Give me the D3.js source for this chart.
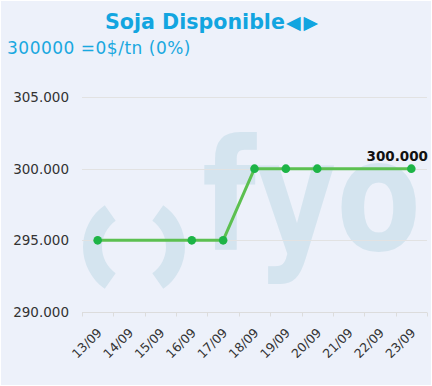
<!DOCTYPE html>
<meta charset="utf-8">
<style>
body { margin: 0; background: #fff; }
svg { display: block; font-family: "DejaVu Sans", Verdana, sans-serif; }
</style>
<svg width="432" height="386"></svg>
<script src="https://cdnjs.cloudflare.com/ajax/libs/d3/7.8.5/d3.min.js"></script>
<script>

// chart data
var dates = ["13/09","14/09","15/09","16/09","17/09","18/09","19/09","20/09","21/09","22/09","23/09"];
var pointDates = ["13/09","16/09","17/09","18/09","19/09","20/09","23/09"];
var pointValues = [295000, 295000, 295000, 300000, 300000, 300000, 300000];
var yTicks = [290000, 295000, 300000, 305000];
var title = "Soja Disponible";
var subtitle = "300000 =0$/tn (0%)";

var svg = d3.select("svg"),
    width = +svg.attr("width"),
    height = +svg.attr("height");

var margin = {top: 97, right: 5, bottom: 74, left: 82};

svg.append("rect")
    .attr("x", 1).attr("y", 1)
    .attr("width", width - 2).attr("height", height - 2)
    .attr("fill", "#edf1fa");

var x = d3.scaleBand()
    .domain(dates)
    .range([margin.left, width - margin.right]);

var y = d3.scaleLinear()
    .domain([290000, 305000])
    .range([height - margin.bottom, margin.top]);

var fmt = function(v) { return d3.format(",")(v).replace(/,/g, "."); };

// watermark logo
var wmColor = "#d4e4ef";
var paren = d3.arc().innerRadius(32).outerRadius(51);
var wm = svg.append("g").attr("transform", "translate(134,247)");
wm.append("path")
    .attr("d", paren({startAngle: -145 * Math.PI / 180, endAngle: -35 * Math.PI / 180}))
    .attr("fill", wmColor);
wm.append("path")
    .attr("d", paren({startAngle: 35 * Math.PI / 180, endAngle: 145 * Math.PI / 180}))
    .attr("fill", wmColor);
svg.append("text")
    .attr("x", 202).attr("y", 250)
    .attr("font-weight", "bold")
    .attr("font-size", 155)
    .attr("textLength", 219)
    .attr("lengthAdjust", "spacingAndGlyphs")
    .attr("fill", wmColor)
    .text("fyo");

// grid lines
svg.append("g")
  .selectAll("line")
  .data(yTicks.slice(1))
  .enter().append("line")
    .attr("x1", margin.left).attr("x2", width - margin.right)
    .attr("y1", function(d) { return Math.round(y(d)) + 0.5; })
    .attr("y2", function(d) { return Math.round(y(d)) + 0.5; })
    .attr("stroke", "#e2e2e2");

// y labels
svg.append("g")
  .selectAll("text")
  .data(yTicks)
  .enter().append("text")
    .attr("x", 69)
    .attr("y", function(d) { return y(d) + 5; })
    .attr("text-anchor", "end")
    .attr("font-size", 13.5)
    .attr("fill", "#333")
    .text(fmt);

// x axis
var xAxis = svg.append("g")
    .attr("transform", "translate(0," + (Math.round(y(290000)) + 0.5) + ")");
xAxis.append("line")
    .attr("x1", margin.left).attr("x2", width - margin.right)
    .attr("stroke", "#dcdcdc");
xAxis.selectAll(".tick")
  .data(dates.concat(["end"]))
  .enter().append("line")
    .attr("x1", function(d, i) { return Math.round(margin.left + i * x.bandwidth()) + 0.5; })
    .attr("x2", function(d, i) { return Math.round(margin.left + i * x.bandwidth()) + 0.5; })
    .attr("y1", 0).attr("y2", 4)
    .attr("stroke", "#dcdcdc");
xAxis.selectAll("text")
  .data(dates)
  .enter().append("text")
    .attr("transform", function(d) {
      return "translate(" + (x(d) + x.bandwidth() / 2 + 5) + ",21) rotate(-45)";
    })
    .attr("text-anchor", "end")
    .attr("font-size", 12.5)
    .attr("fill", "#333")
    .text(function(d) { return d; });

// line and points
var pts = pointDates.map(function(d, i) { return {date: d, value: pointValues[i]}; });
var line = d3.line()
    .x(function(d) { return x(d.date) + x.bandwidth() / 2; })
    .y(function(d) { return y(d.value); });

svg.append("path")
    .datum(pts)
    .attr("d", line)
    .attr("fill", "none")
    .attr("stroke", "#5cc050")
    .attr("stroke-width", 3)
    .attr("stroke-linejoin", "round");

svg.append("g")
  .selectAll("circle")
  .data(pts)
  .enter().append("circle")
    .attr("cx", function(d) { return x(d.date) + x.bandwidth() / 2; })
    .attr("cy", function(d) { return y(d.value); })
    .attr("r", 4.3)
    .attr("fill", "#1db446");

var last = pts[pts.length - 1];
svg.append("text")
    .attr("x", width - 4)
    .attr("y", y(last.value) - 8)
    .attr("text-anchor", "end")
    .attr("font-size", 13.5)
    .attr("font-weight", "bold")
    .attr("fill", "#111")
    .text(fmt(last.value));

// titles
var t = svg.append("text")
    .attr("x", 105)
    .attr("y", 29)
    .attr("font-size", 20.6)
    .attr("font-weight", "bold")
    .attr("fill", "#12a5e0")
    .text(title);
t.append("tspan").attr("font-size", 19).attr("dx", 1).text("\u25C0");
t.append("tspan").attr("font-size", 19).attr("dx", 3).text("\u25B6");

svg.append("text")
    .attr("x", 7)
    .attr("y", 54)
    .attr("font-size", 17)
    .attr("letter-spacing", 0.5)
    .attr("fill", "#19a8e0")
    .text(subtitle);

</script>
